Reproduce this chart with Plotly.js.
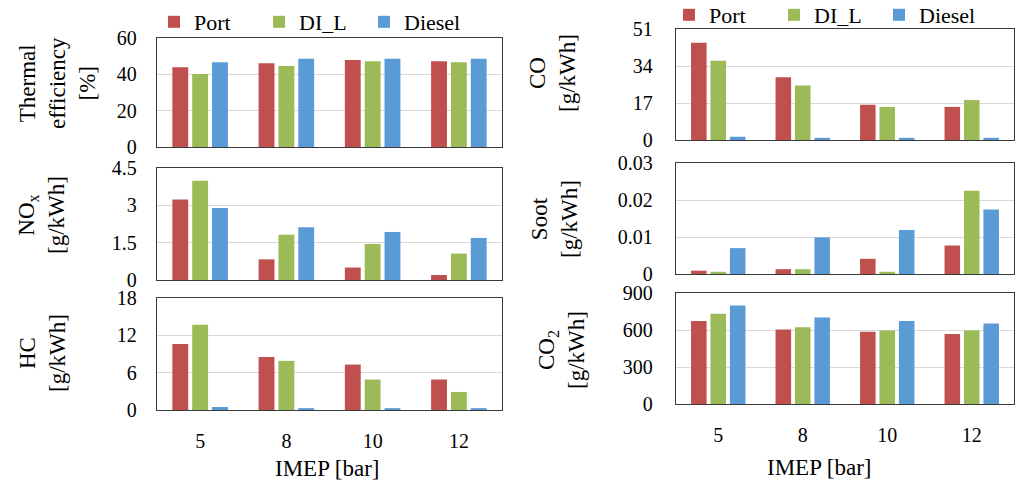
<!DOCTYPE html>
<html>
<head>
<meta charset="utf-8">
<script src="https://cdn.plot.ly/plotly-3.0.1.min.js"></script>
<style>
html,body{margin:0;padding:0;background:#fff;}
#chart{width:1017px;height:485px;}
</style>
</head>
<body>
<div id="chart"></div>
<script>
// ---- data ----
const categories = ['5', '8', '10', '12'];
const seriesNames = ['Port', 'DI_L', 'Diesel'];

const effPort   = [43.9, 46.1, 47.9, 47.2];
const effDIL    = [40.2, 44.6, 47.2, 46.6];
const effDiesel = [46.6, 48.6, 48.6, 48.6];

const noxPort   = [3.23, 0.83, 0.50, 0.20];
const noxDIL    = [3.99, 1.82, 1.45, 1.06];
const noxDiesel = [2.89, 2.12, 1.93, 1.69];

const hcPort   = [10.6, 8.5, 7.3, 4.9];
const hcDIL    = [13.7, 7.9, 4.9, 2.9];
const hcDiesel = [0.48, 0.3, 0.3, 0.3];

const coPort   = [44.7, 28.8, 16.2, 15.2];
const coDIL    = [36.4, 25.0, 15.2, 18.4];
const coDiesel = [1.5, 1.0, 1.0, 1.0];

const sootPort   = [0.0009, 0.0013, 0.0041, 0.0077];
const sootDIL    = [0.0006, 0.0013, 0.0006, 0.0225];
const sootDiesel = [0.0070, 0.0099, 0.0119, 0.0174];

const co2Port   = [672, 605, 586, 567];
const co2DIL    = [731, 623, 596, 596];
const co2Diesel = [798, 701, 672, 653];

const yTitles = ['Thermal<br>efficiency<br>[%]', 'NO<sub>x</sub><br>[g/kWh]', 'HC<br>[g/kWh]',
                 'CO<br>[g/kWh]', 'Soot<br>[g/kWh]', 'CO<sub>2</sub><br>[g/kWh]'];
const xTitle = 'IMEP [bar]';
const yRanges = [[0, 60], [0, 4.5], [0, 18], [0, 51], [0, 0.03], [0, 900]];
const yDticks = [20, 1.5, 6, 17, 0.01, 300];

// ---- layout geometry (pixels) ----
const W = 1017, H = 485;
const colors = ['#C0504D', '#9BBB59', '#5B9BD5'];
const panelData = [
  [effPort, effDIL, effDiesel],
  [noxPort, noxDIL, noxDiesel],
  [hcPort, hcDIL, hcDiesel],
  [coPort, coDIL, coDiesel],
  [sootPort, sootDIL, sootDiesel],
  [co2Port, co2DIL, co2Diesel]
];
// [left, right, top, bottom] in px
const boxes = [
  [157, 502, 38, 147],
  [157, 502, 168, 280],
  [157, 502, 298, 410],
  [676, 1014, 29, 140],
  [676, 1014, 163, 274],
  [676, 1014, 293, 404]
];
// y-title centers (px)
const yTitlePos = [[57, 83], [41, 215], [42, 353], [552, 73], [555, 219], [561, 350]];
const xTitlePos = [[327, 468], [819, 467]];

const fontFam = 'Liberation Serif';
const traces = [];
const layout = {
  width: W, height: H,
  margin: {l: 0, r: 0, t: 0, b: 0, autoexpand: false},
  paper_bgcolor: '#fff', plot_bgcolor: '#fff',
  font: {family: fontFam, size: 20, color: '#000'},
  bargap: 0.31, bargroupgap: 0.2, barmode: 'group',
  annotations: [],
  legend: {orientation: 'h', x: 154 / W, xanchor: 'left', y: 1 - 22 / H, yanchor: 'middle',
           font: {size: 22, family: fontFam, color: '#000'}, bgcolor: 'rgba(0,0,0,0)',
           entrywidth: 60, traceorder: 'normal'},
  legend2: {orientation: 'h', x: 669 / W, xanchor: 'left', y: 1 - 15 / H, yanchor: 'middle',
           font: {size: 22, family: fontFam, color: '#000'}, bgcolor: 'rgba(0,0,0,0)',
           entrywidth: 60, traceorder: 'normal'}
};

panelData.forEach((vals, i) => {
  const n = i + 1;
  const sfx = n === 1 ? '' : String(n);
  const b = boxes[i];
  const bottomPanel = (i === 2 || i === 5);
  layout['xaxis' + sfx] = {
    domain: [b[0] / W, b[1] / W], anchor: 'y' + sfx,
    type: 'category', categoryorder: 'array', categoryarray: categories,
    showticklabels: bottomPanel, ticks: '', ticklabelstandoff: 13,
    showgrid: false, zeroline: false, automargin: false,
    showline: true, mirror: true, linecolor: '#3a3a3a', linewidth: 1.3,
    tickfont: {size: 20, family: fontFam, color: '#000'}, fixedrange: true
  };
  layout['yaxis' + sfx] = {
    domain: [1 - b[3] / H, 1 - b[2] / H], anchor: 'x' + sfx,
    range: yRanges[i], tick0: 0, dtick: yDticks[i], ticks: '',
    ticklabelstandoff: i < 3 ? 15 : 18, automargin: false,
    showgrid: true, gridcolor: '#d9d9d9', gridwidth: 1, zeroline: false,
    showline: true, mirror: true, linecolor: '#3a3a3a', linewidth: 1.3,
    tickfont: {size: 20, family: fontFam, color: '#000'}, fixedrange: true
  };
  vals.forEach((v, s) => {
    const t = {
      type: 'bar', x: categories, y: v, name: seriesNames[s],
      marker: {color: colors[s], line: {width: 0}},
      xaxis: 'x' + sfx, yaxis: 'y' + sfx,
      showlegend: (i === 0 || i === 3), hoverinfo: 'y'
    };
    if (i === 3) t.legend = 'legend2';
    else if (i === 0) t.legend = 'legend';
    traces.push(t);
  });
  layout.annotations.push({
    text: yTitles[i], textangle: -90, showarrow: false,
    xref: 'paper', yref: 'paper', x: yTitlePos[i][0] / W, y: 1 - yTitlePos[i][1] / H,
    xanchor: 'center', yanchor: 'middle',
    font: {size: 23, family: fontFam, color: '#000'}
  });
});
xTitlePos.forEach(p => {
  layout.annotations.push({
    text: xTitle, showarrow: false, xref: 'paper', yref: 'paper',
    x: p[0] / W, y: 1 - p[1] / H, xanchor: 'center', yanchor: 'middle',
    font: {size: 23, family: fontFam, color: '#000'}
  });
});

Plotly.newPlot('chart', traces, layout, {displayModeBar: false, staticPlot: true});
</script>
</body>
</html>
